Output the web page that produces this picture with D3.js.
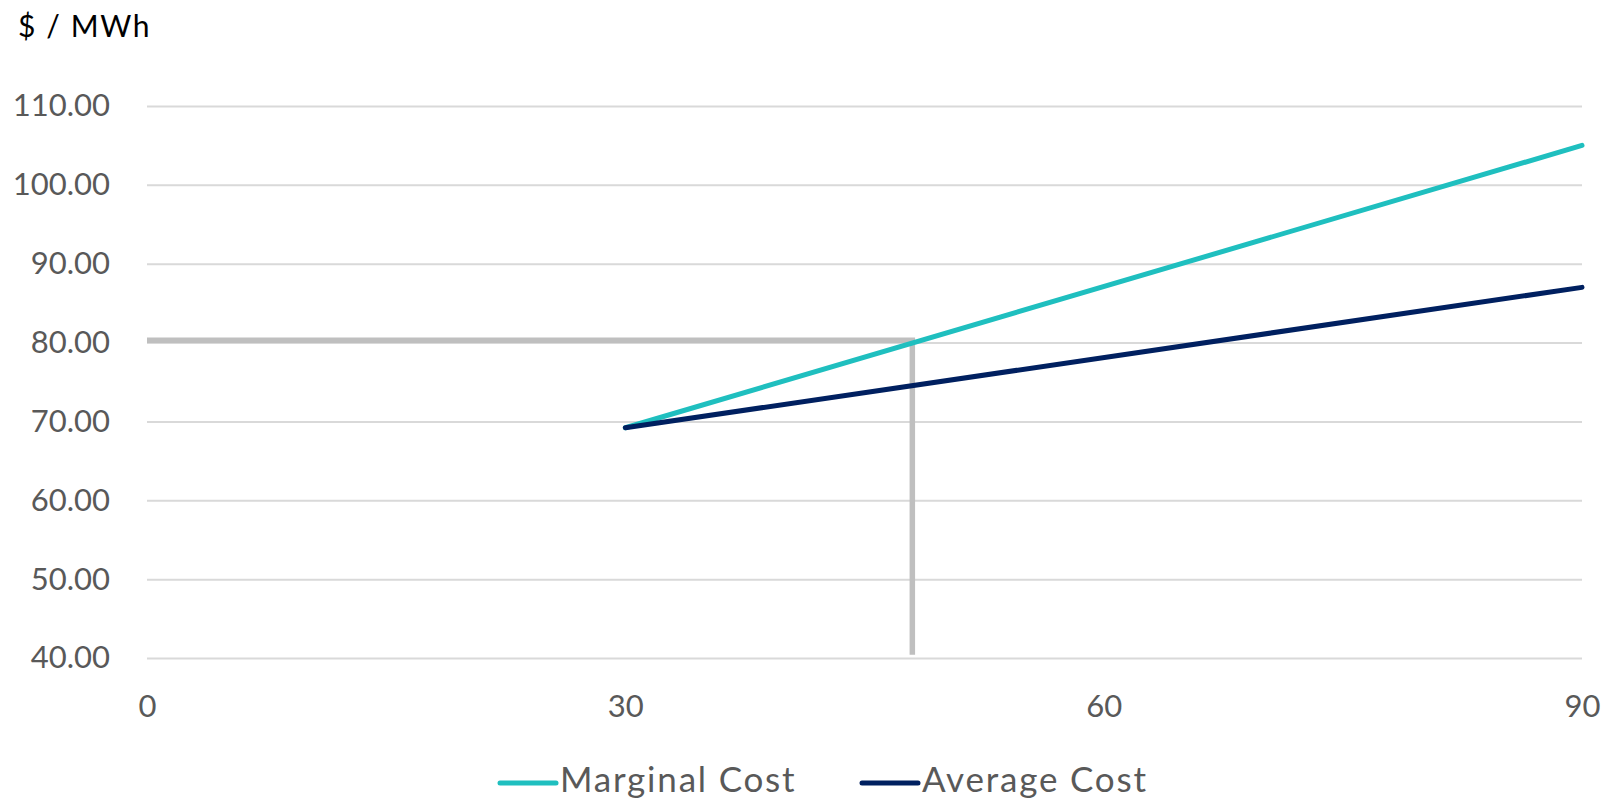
<!DOCTYPE html>
<html>
<head>
<meta charset="utf-8">
<script src="https://cdn.jsdelivr.net/npm/d3@7"></script>
<style>
  html, body { margin: 0; padding: 0; background: #ffffff; }
  svg { display: block; font-family: Lato, "Open Sans", sans-serif; }
</style>
</head>
<body>
<svg id="chart" width="1613" height="801"></svg>
<script>
// Output level (x) and cost in $/MWh (y)
const outputTicks = [0, 30, 60, 90];
const costTicks = [40, 50, 60, 70, 80, 90, 100, 110];

const marginalX = [30, 90];
const marginalCost = [69.2, 105];

const averageX = [30, 90];
const averageCost = [69.2, 87];

// Reference marker: output of 48 at a cost of 80.3
const markerX = [0, 48, 48];
const markerY = [80.3, 80.3, 40.4];

const seriesNames = ["Marginal Cost", "Average Cost"];
const seriesColors = ["#1fbfbf", "#002060"];

const svg = d3.select("#chart");
const x = d3.scaleLinear().domain([0, 90]).range([147, 1582]);
const y = d3.scaleLinear().domain([40, 110]).range([658, 106]);

// Horizontal gridlines
const yAxis = d3.axisLeft(y)
  .tickValues(costTicks)
  .tickSize(-(x.range()[1] - x.range()[0]))
  .tickPadding(37)
  .tickFormat(d3.format(".2f"));
const gy = svg.append("g").attr("transform", `translate(${x.range()[0]},0)`).call(yAxis);
gy.select(".domain").remove();
gy.selectAll(".tick line").attr("stroke", "#d9d9d9").attr("stroke-width", 2);
gy.selectAll(".tick text")
  .attr("fill", "#595959")
  .attr("font-size", 31)
  .attr("font-family", "Lato, sans-serif");

// X axis labels (no line)
const xAxis = d3.axisBottom(x).tickValues(outputTicks).tickSize(0).tickPadding(37).tickFormat(d3.format("d"));
const gx = svg.append("g").attr("transform", `translate(0,${y.range()[0]})`).call(xAxis);
gx.select(".domain").remove();
gx.selectAll(".tick text")
  .attr("fill", "#595959")
  .attr("font-size", 31)
  .attr("font-family", "Lato, sans-serif");

// Axis unit label
svg.append("text")
  .attr("x", 18).attr("y", 37)
  .attr("font-size", 30)
  .attr("letter-spacing", 1.6)
  .attr("fill", "#000000")
  .text("$ / MWh");

const line = d3.line().x(d => x(d[0])).y(d => y(d[1]));

// Reference marker lines
svg.append("path")
  .datum(d3.zip(markerX, markerY))
  .attr("d", line)
  .attr("fill", "none")
  .attr("stroke", "#bfbfbf")
  .attr("stroke-width", 5.5);

// Cost curves
const series = [
  d3.zip(marginalX, marginalCost),
  d3.zip(averageX, averageCost)
];
series.forEach((pts, i) => {
  svg.append("path")
    .datum(pts)
    .attr("d", line)
    .attr("fill", "none")
    .attr("stroke", seriesColors[i])
    .attr("stroke-width", 5)
    .attr("stroke-linecap", "round");
});

// Legend
const legendX = [500, 862];
const legendY = 783;
seriesNames.forEach((name, i) => {
  const g = svg.append("g").attr("transform", `translate(${legendX[i]},${legendY})`);
  g.append("line")
    .attr("x1", 0).attr("x2", 56)
    .attr("y1", 0).attr("y2", 0)
    .attr("stroke", seriesColors[i])
    .attr("stroke-width", 5)
    .attr("stroke-linecap", "round");
  g.append("text")
    .attr("x", 60).attr("y", 9)
    .attr("font-size", 35)
    .attr("letter-spacing", 1.8)
    .attr("fill", "#595959")
    .text(name);
});
</script>
</body>
</html>
